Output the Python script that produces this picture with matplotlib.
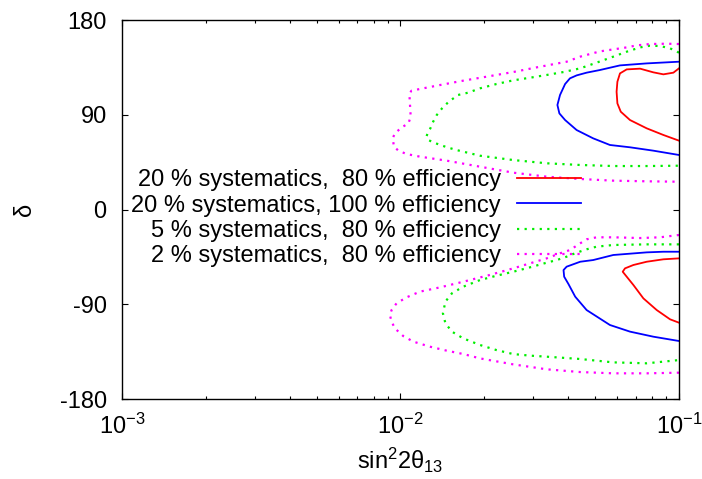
import numpy as np
import matplotlib
matplotlib.use("Agg")
import matplotlib.pyplot as plt

plt.rcParams['font.family'] = ['Liberation Sans', 'DejaVu Sans']
plt.rcParams['mathtext.fontset'] = 'custom'
plt.rcParams['mathtext.rm'] = 'Liberation Sans'
plt.rcParams['mathtext.it'] = 'Liberation Sans:italic'
plt.rcParams['axes.unicode_minus'] = False

# contours: upper (delta > 0) and lower (delta < 0) islands, x = sin^2 2theta13
red_up_x = [0.1, 0.0955, 0.0879, 0.0809, 0.0725, 0.0649, 0.0614, 0.0601, 0.0597, 0.0601,
            0.0618, 0.0667, 0.0766, 0.0879, 0.1]
red_up_d = [134.1, 130.0, 128.4, 130.3, 133.8, 133.1, 129.3, 121.4, 111.9, 100.8,
            92.9, 85.0, 77.1, 70.8, 65.4]
red_lo_x = [0.1, 0.0879, 0.0766, 0.0686, 0.0640, 0.0628, 0.0649, 0.0686, 0.0745, 0.0832,
            0.0929, 0.1]
red_lo_d = [-46.4, -47.3, -49.6, -52.7, -55.9, -59.1, -63.8, -71.7, -84.4, -95.5,
            -104.3, -107.5]

blue_up_x = [0.1, 0.0766, 0.0614, 0.0520, 0.0466, 0.0429, 0.0406, 0.0390, 0.0374, 0.0366,
             0.0372, 0.0390, 0.0429, 0.0492, 0.0565, 0.0667, 0.0809, 0.1]
blue_up_d = [140.4, 138.8, 136.9, 132.5, 130.0, 127.4, 124.6, 119.2, 108.8, 99.3,
             91.3, 85.0, 75.5, 67.6, 61.3, 59.1, 55.9, 51.8]
blue_lo_x = [0.1, 0.0879, 0.0766, 0.0581, 0.0492, 0.0442, 0.0395, 0.0385, 0.0387, 0.0401,
             0.0424, 0.0466, 0.0565, 0.0667, 0.0809, 0.1]
blue_lo_d = [-40.1, -40.1, -40.7, -43.2, -48.0, -49.6, -54.3, -57.5, -63.8, -70.8,
             -82.8, -95.5, -109.7, -116.0, -120.8, -124.9]

green_up_x = [0.1, 0.0929, 0.0855, 0.0787, 0.0725, 0.0649, 0.0581, 0.0506, 0.0442, 0.0385,
              0.0335, 0.0292, 0.0254, 0.0221, 0.0193, 0.0175, 0.0161, 0.0149, 0.0141, 0.0135,
              0.0131, 0.0128, 0.0125, 0.0124, 0.0126, 0.0131, 0.0139, 0.0147, 0.0159, 0.0193,
              0.0254, 0.0335, 0.0442, 0.0581, 0.0766, 0.1]
green_up_d = [149.0, 153.1, 155.3, 155.6, 154.0, 149.9, 145.2, 139.5, 134.1, 130.6,
              127.8, 125.2, 122.7, 119.2, 115.1, 111.0, 108.8, 102.4, 96.1, 89.8,
              83.4, 77.1, 72.3, 69.2, 66.0, 63.8, 61.3, 59.1, 56.5, 51.1,
              47.0, 43.9, 42.3, 41.3, 41.3, 41.6]
green_lo_x = [0.1, 0.0766, 0.0581, 0.0506, 0.0466, 0.0429, 0.0395, 0.0364, 0.0335, 0.0292,
              0.0254, 0.0221, 0.0193, 0.0168, 0.0153, 0.0145, 0.0142, 0.0145, 0.0153, 0.0168,
              0.0193, 0.0221, 0.0254, 0.0292, 0.0335, 0.0442, 0.0581, 0.0766, 0.1]
green_lo_d = [-33.1, -33.1, -33.7, -35.3, -37.8, -41.0, -44.8, -48.0, -50.5, -54.9,
              -59.1, -62.9, -67.0, -73.3, -79.6, -87.5, -98.6, -108.1, -116.0, -122.4,
              -128.7, -133.5, -137.3, -138.8, -139.8, -142.0, -145.2, -146.1, -143.0]

mag_up_x = [0.1, 0.0903, 0.0787, 0.0705, 0.0649, 0.0581, 0.0520, 0.0479, 0.0442, 0.0395,
            0.0308, 0.0254, 0.0204, 0.0168, 0.0139, 0.01175, 0.01096, 0.01076, 0.01081, 0.01088,
            0.01068, 0.01009, 0.00955, 0.00937, 0.00948, 0.00983, 0.01052, 0.01175, 0.01466, 0.01928,
            0.0254, 0.0335, 0.0442, 0.0581, 0.0766, 0.1]
mag_up_d = [157.2, 157.5, 157.2, 155.9, 154.0, 152.1, 150.2, 147.7, 145.2, 140.4,
            135.0, 130.6, 126.2, 122.4, 118.3, 114.5, 112.9, 110.3, 100.8, 88.2,
            81.8, 78.0, 72.3, 67.6, 59.7, 55.9, 52.7, 50.2, 46.4, 40.7,
            35.0, 31.2, 29.0, 27.4, 26.8, 26.4]
mag_lo_x = [0.1, 0.0855, 0.0725, 0.0581, 0.0506, 0.0466, 0.0442, 0.0406, 0.0374, 0.0335,
            0.0292, 0.0254, 0.0209, 0.0168, 0.0139, 0.01175, 0.01052, 0.00968, 0.00929, 0.00916,
            0.00929, 0.00955, 0.01023, 0.01112, 0.01276, 0.01466, 0.01683, 0.01928, 0.0254, 0.0335,
            0.0442, 0.0581, 0.0766, 0.1]
mag_lo_d = [-24.2, -26.4, -27.1, -26.4, -26.4, -28.3, -32.1, -38.5, -41.6, -46.4,
            -51.1, -55.9, -62.2, -68.6, -73.9, -78.0, -83.4, -89.1, -95.5, -100.2,
            -106.5, -112.9, -120.2, -125.5, -130.3, -134.1, -137.3, -141.4, -147.1, -151.8,
            -154.4, -155.6, -155.6, -155.0]

labels = ["20 % systematics,  80 % efficiency",
          "20 % systematics, 100 % efficiency",
          "5 % systematics,  80 % efficiency",
          "2 % systematics,  80 % efficiency"]

fs = 17

fig = plt.figure(figsize=(7.02, 4.79), dpi=100)
ax = fig.add_axes([0.1738, 0.167, 0.7934, 0.7912])

dot = (0, (1, 2.4))
ax.plot(red_up_x, red_up_d, color='#ff0000', lw=1.3, label=labels[0])
ax.plot(red_lo_x, red_lo_d, color='#ff0000', lw=1.3)
ax.plot(blue_up_x, blue_up_d, color='#0000ff', lw=1.3, label=labels[1])
ax.plot(blue_lo_x, blue_lo_d, color='#0000ff', lw=1.3)
ax.plot(green_up_x, green_up_d, color='#00ee00', lw=1.6, ls=dot, label=labels[2])
ax.plot(green_lo_x, green_lo_d, color='#00ee00', lw=1.6, ls=dot)
ax.plot(mag_up_x, mag_up_d, color='#ff00ff', lw=1.6, ls=dot, label=labels[3])
ax.plot(mag_lo_x, mag_lo_d, color='#ff00ff', lw=1.6, ls=dot)

ax.set_xscale('log')
ax.set_xlim(1e-3, 1e-1)
ax.set_ylim(-180, 180)
ax.set_yticks([-180, -90, 0, 90, 180])
ax.tick_params(which='both', direction='in', top=True, right=True, labelsize=fs)
ax.tick_params(axis='y', pad=11)
ax.tick_params(axis='x', pad=10.5)
ax.tick_params(which='major', length=4, width=0.8)
ax.tick_params(which='minor', length=2.2, width=0.8)
for s in ax.spines.values():
    s.set_linewidth(1.0)

ax.set_xlabel('sin$^2$2θ$_{13}$', fontsize=fs, labelpad=5)
ax.set_ylabel('δ', fontsize=fs)
ax.yaxis.set_label_coords(-0.155, 0.5)

ax.legend(loc='upper right', bbox_to_anchor=(0.824, 0.606), frameon=False,
          markerfirst=False, fontsize=fs, handlelength=2.7, handletextpad=0.7,
          labelspacing=0.14, borderpad=0, borderaxespad=0)

fig.savefig('out.png', dpi=100)
